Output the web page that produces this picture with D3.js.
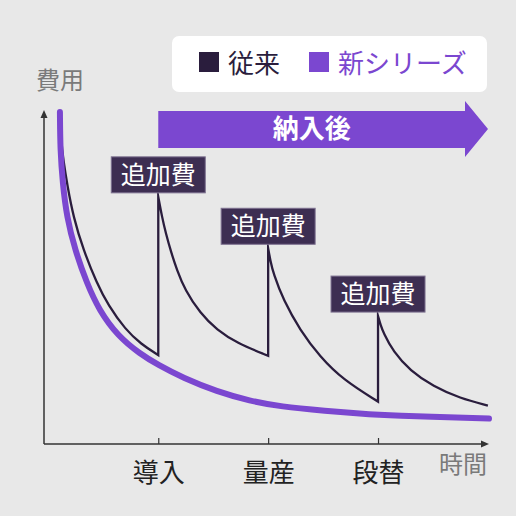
<!DOCTYPE html>
<html><head><meta charset="utf-8">
<script src="https://cdn.jsdelivr.net/npm/d3@7/dist/d3.min.js"></script>
<style>
html,body{margin:0;padding:0;background:#e8e8e8;}
svg{display:block;font-family:"Noto Sans CJK JP","Noto Sans",sans-serif;}
</style></head>
<body><svg id="c" width="516" height="516"></svg>
<script>
// ---- data ----
const legendLabels = ["従来", "新シリーズ"];
const tickValues = [1, 2, 3];
const tickLabels = ["導入", "量産", "段替"];
const yAxisLabel = "費用";
const xAxisLabel = "時間";
const bannerLabel = "納入後";
const extraLabel = "追加費";

// new series (time, cost)
const newT = [0.105, 0.108, 0.130, 0.167, 0.242, 0.349, 0.461, 0.633, 0.834, 0.997, 1.225, 1.534, 1.835, 2.108, 2.536, 2.836, 3.109, 4.010];
const newV = [99.4, 88.0, 78.1, 68.0, 58.1, 48.2, 40.1, 32.3, 27.0, 23.7, 19.8, 15.7, 12.9, 11.2, 9.9, 9.1, 8.5, 7.6];

// conventional series, one segment between each extra cost
const oldSeg1T = [0.105, 0.115, 0.136, 0.172, 0.227, 0.318, 0.440, 0.545, 0.700, 0.843, 1.0];
const oldSeg1V = [99.4, 91.0, 85.0, 77.5, 68.0, 58.1, 48.2, 41.5, 34.3, 29.9, 26.6];
const oldSeg2T = [1.0, 1.034, 1.070, 1.116, 1.170, 1.243, 1.380, 1.534, 1.716, 2.0];
const oldSeg2V = [74.0, 68.0, 62.9, 57.5, 52.1, 46.1, 39.2, 34.1, 30.2, 26.4];
const oldSeg3T = [2.0, 2.021, 2.047, 2.138, 2.290, 2.472, 2.684, 3.0];
const oldSeg3V = [58.6, 54.8, 51.1, 43.1, 34.1, 26.1, 19.2, 12.7];
const oldSeg4T = [3.0, 3.024, 3.048, 3.139, 3.291, 3.503, 3.746, 4.0];
const oldSeg4V = [38.3, 35.6, 33.4, 27.6, 22.0, 17.2, 13.7, 11.5];

const colors = {old: "#2a1d3d", neu: "#7b47d0", box: "#3d2e52", axis: "#333333", gray: "#7a7a7a"};

// ---- scales ----
const svg = d3.select("#c");
const x = d3.scaleLinear().domain([-0.04, 4.01]).range([44, 489]);
const y = d3.scaleLinear().domain([0, 100]).range([444, 110]);

// ---- legend ----
svg.append("rect").attr("x", 172).attr("y", 36).attr("width", 315).attr("height", 56)
  .attr("rx", 7).attr("fill", "#ffffff");
const lg = [{x: 199, c: colors.old}, {x: 309, c: colors.neu}];
lg.forEach((d, i) => {
  svg.append("rect").attr("x", d.x).attr("y", 52).attr("width", 20).attr("height", 20).attr("fill", d.c);
  svg.append("text").attr("x", d.x + 29).attr("y", 73).attr("font-size", 26)
    .attr("fill", d.c).text(legendLabels[i]);
});

// ---- axis labels ----
svg.append("text").attr("x", 36).attr("y", 89).attr("font-size", 24).attr("fill", colors.gray).text(yAxisLabel);
svg.append("text").attr("x", 487).attr("y", 473).attr("text-anchor", "end").attr("font-size", 24)
  .attr("fill", colors.gray).text(xAxisLabel);

// ---- banner arrow ----
const bx0 = x(1), bx1 = 465, bxt = 488, byc = 129;
svg.append("path")
  .attr("d", `M${bx0},111 L${bx1},111 L${bx1},101 L${bxt},${byc} L${bx1},157 L${bx1},148 L${bx0},148 Z`)
  .attr("fill", colors.neu);
svg.append("text").attr("x", (bx0 + bx1) / 2).attr("y", 138).attr("text-anchor", "middle")
  .attr("font-size", 26).attr("font-weight", "bold").attr("fill", "#ffffff").text(bannerLabel);

// ---- axes ----
const xAxis = d3.axisBottom(x).tickValues(tickValues).tickSize(0).tickFormat((d, i) => tickLabels[i]);
const gx = svg.append("g").attr("transform", `translate(0,${y(0)})`).call(xAxis);
gx.select(".domain").remove();
gx.selectAll("text").attr("font-size", 26).attr("fill", "#222").attr("dy", "1.35em")
  .attr("font-family", "'Noto Sans CJK JP', sans-serif");
gx.selectAll(".tick").append("line").attr("y1", 0).attr("y2", -6).attr("stroke", colors.axis).attr("stroke-width", 1.2);

svg.append("line").attr("x1", x.range()[0]).attr("x2", x.range()[1] - 4).attr("y1", y(0)).attr("y2", y(0))
  .attr("stroke", colors.axis).attr("stroke-width", 1.5);
svg.append("line").attr("x1", x.range()[0]).attr("x2", x.range()[0]).attr("y1", y(0)).attr("y2", y.range()[1] + 4)
  .attr("stroke", colors.axis).attr("stroke-width", 1.5);
// arrowheads
const X1 = x.range()[1], Y1 = y.range()[1], X0 = x.range()[0], Y0 = y(0);
svg.append("path").attr("d", `M${X1},${Y0} L${X1 - 8},${Y0 - 3.5} L${X1 - 8},${Y0 + 3.5} Z`).attr("fill", colors.axis);
svg.append("path").attr("d", `M${X0},${Y1} L${X0 - 3.5},${Y1 + 8} L${X0 + 3.5},${Y1 + 8} Z`).attr("fill", colors.axis);

// ---- lines ----
const lineGen = d3.line().x(d => x(d[0])).y(d => y(d[1])).curve(d3.curveBasis);
const segs = [[oldSeg1T, oldSeg1V], [oldSeg2T, oldSeg2V], [oldSeg3T, oldSeg3V], [oldSeg4T, oldSeg4V]];
let dOld = "";
segs.forEach(([T, V], i) => {
  const p = lineGen(T.map((t, j) => [t, V[j]]));
  dOld += i === 0 ? p : p.replace(/^M/, "L");
});
svg.append("path").attr("d", dOld).attr("fill", "none").attr("stroke", colors.old)
  .attr("stroke-width", 2.3).attr("stroke-linejoin", "miter").attr("stroke-miterlimit", 20);

const dNew = lineGen(newT.map((t, j) => [t, newV[j]]));
svg.append("path").attr("d", dNew).attr("fill", "none").attr("stroke", colors.neu)
  .attr("stroke-width", 6).attr("stroke-linecap", "round");

// ---- extra-cost labels ----
const peaks = [[oldSeg2T[0], oldSeg2V[0]], [oldSeg3T[0], oldSeg3V[0]], [oldSeg4T[0], oldSeg4V[0]]];
peaks.forEach(p => {
  const cx = x(p[0]), by = y(p[1]) - 4;
  svg.append("rect").attr("x", cx - 47).attr("y", by - 36).attr("width", 94).attr("height", 36)
    .attr("fill", colors.box).attr("stroke", "#7d7190").attr("stroke-width", 1);
  svg.append("text").attr("x", cx).attr("y", by - 9).attr("text-anchor", "middle")
    .attr("font-size", 25).attr("fill", "#ffffff").text(extraLabel);
});
</script></body></html>
